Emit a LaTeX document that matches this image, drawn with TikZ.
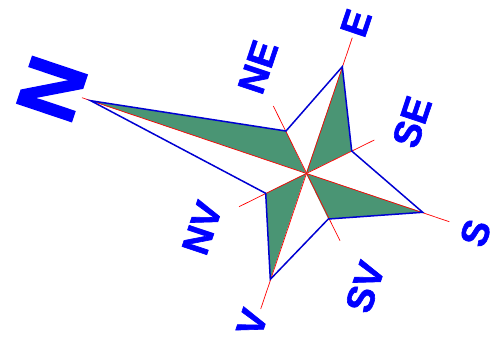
\documentclass[tikz,border=0pt]{standalone}
\usepackage{fontspec}
\setmainfont{Liberation Sans}
\newfontfamily\heavyfont[FakeBold=1.6]{Liberation Sans Bold}
\definecolor{rosegreen}{RGB}{74,149,116}
\definecolor{roseblue}{RGB}{0,0,210}
\definecolor{labelblue}{RGB}{0,0,255}
\tikzset{
  axisline/.style={draw=red, line width=0.7pt},
  outline/.style={draw=roseblue, line width=1.5pt, line join=miter},
  petal/.style={fill=rosegreen},
  lab/.style={text=labelblue, font=\heavyfont\fontsize{38}{38}\selectfont, rotate=71.4, inner sep=0pt},
  biglab/.style={text=labelblue, font=\heavyfont\fontsize{84}{84}\selectfont, rotate=71.4, inner sep=0pt}
}
\begin{document}
\begin{tikzpicture}[x=1pt,y=-1pt]
\useasboundingbox (0,0) rectangle (493,343);
% centre and points
\coordinate (C) at (306,173.3);
\coordinate (N) at (90.7,100.7);
\coordinate (E) at (342.3,66.7);
\coordinate (S) at (422.7,212.3);
\coordinate (V) at (270.3,279.3);
\coordinate (NE) at (286,131);
\coordinate (SE) at (351.7,151);
\coordinate (SV) at (328.3,219);
\coordinate (NV) at (265.7,193.3);
% extension ends of red lines
\coordinate (xN) at (82,97.7);
\coordinate (xS) at (449.3,221.7);
\coordinate (xE) at (352.3,37.7);
\coordinate (xV) at (260.7,309);
\coordinate (xNE) at (273.3,106);
\coordinate (xSV) at (340,240.7);
\coordinate (xSE) at (374.3,140);
\coordinate (xNV) at (239,206.7);
% green halves
\fill[petal] (N) -- (NE) -- (C) -- cycle;
\fill[petal] (E) -- (SE) -- (C) -- cycle;
\fill[petal] (S) -- (SV) -- (C) -- cycle;
\fill[petal] (V) -- (NV) -- (C) -- cycle;
% red axes
\draw[axisline] (xN) -- (xS);
\draw[axisline] (xE) -- (xV);
\draw[axisline] (xNE) -- (xSV);
\draw[axisline] (xSE) -- (xNV);
% blue outline
\draw[outline] (N) -- (NE) -- (E) -- (SE) -- (S) -- (SV) -- (V) -- (NV) -- cycle;
% labels
\node[biglab] (lN) at (52,89) {N};
\node[lab] (lNE) at (258,67) {NE};
\node[lab] (lE) at (356,23) {E};
\node[lab] (lSE) at (412,122) {SE};
\node[lab] (lS) at (475.5,233) {S};
\node[lab] (lSV) at (365,287) {SV};
\node[lab] (lNV) at (202,228) {NV};
\node[lab] (lV) at (252,322.5) {V};
\end{tikzpicture}
\end{document}
